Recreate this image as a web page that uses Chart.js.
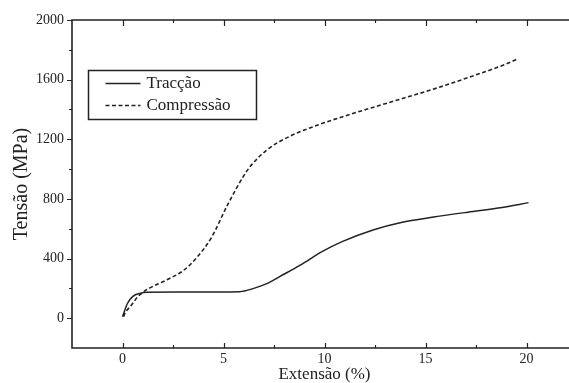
<!DOCTYPE html>
<html>
<head>
<meta charset="utf-8">
<script src="https://cdn.jsdelivr.net/npm/chart.js@4"></script>
<style>
  html, body { margin:0; padding:0; background:#fff; overflow:hidden; }
  #wrap { width:580px; height:383px; }
</style>
</head>
<body>
<div id="wrap"><canvas id="c" width="580" height="383"></canvas></div>
<script>
// valores (extensão em %, tensão em MPa)
const tracX = [0, 0.25, 0.5, 0.9, 1.2, 3, 5.8, 6.5, 7.2, 7.8, 8.8, 9.9, 10.9, 12.4, 13.8, 15.4, 17.1, 18.7, 20.1];
const tracY = [10, 100, 145, 168, 174, 175, 178, 200, 235, 280, 356, 448, 515, 592, 642, 678, 711, 740, 775];

const compX = [0.05, 0.15, 0.4, 0.74, 1.05, 2.2, 3.0, 3.7, 4.4, 5.2, 6.0, 6.4, 7.2, 8.3, 9.8, 11.1, 12.3, 13.9, 15.6, 17.2, 18.9, 19.55];
const compY = [10, 40, 81, 141, 178, 258, 318, 410, 540, 760, 955, 1030, 1134, 1221, 1302, 1360, 1410, 1475, 1545, 1618, 1700, 1738];

const xTicks = [0, 5, 10, 15, 20];
const xMinorTicks = [2.5, 7.5, 12.5, 17.5];
const yTicks = [0, 400, 800, 1200, 1600, 2000];
const yMinorTicks = [200, 600, 1000, 1400, 1800];

const ink = "#222";
const serif = "'Liberation Serif', 'DejaVu Serif', serif";

const pts = (xs, ys) => xs.map((x, i) => ({x, y: ys[i]}));

// moldura, marcas dos eixos e legenda em caixa
const framePlugin = {
  id: "frame",
  afterDraw(chart){
    const {ctx, chartArea:a, scales:{x, y}} = chart;
    ctx.save();
    ctx.strokeStyle = ink;
    ctx.lineWidth = 1.6;
    ctx.beginPath();
    ctx.moveTo(a.right, a.top); ctx.lineTo(a.left, a.top);
    ctx.lineTo(a.left, a.bottom); ctx.lineTo(a.right, a.bottom);
    ctx.stroke();

    ctx.lineWidth = 1.2;
    ctx.beginPath();
    xTicks.forEach(v => {
      const px = Math.round(x.getPixelForValue(v)) + 0.5;
      ctx.moveTo(px, a.bottom); ctx.lineTo(px, a.bottom - 5);
      ctx.moveTo(px, a.top); ctx.lineTo(px, a.top + 6);
    });
    xMinorTicks.forEach(v => {
      const px = Math.round(x.getPixelForValue(v)) + 0.5;
      ctx.moveTo(px, a.bottom); ctx.lineTo(px, a.bottom - 3);
      ctx.moveTo(px, a.top); ctx.lineTo(px, a.top + 3);
    });
    yTicks.forEach(v => {
      const py = Math.round(y.getPixelForValue(v)) + 0.5;
      ctx.moveTo(a.left, py); ctx.lineTo(a.left - 5, py);
    });
    yMinorTicks.forEach(v => {
      const py = Math.round(y.getPixelForValue(v)) + 0.5;
      ctx.moveTo(a.left, py); ctx.lineTo(a.left - 3, py);
    });
    ctx.stroke();

    // legenda
    const bx = 88.5, by = 70.5, bw = 168, bh = 49;
    ctx.lineWidth = 1.5;
    ctx.strokeRect(bx, by, bw, bh);
    ctx.font = "17px " + serif;
    ctx.fillStyle = ink;
    ctx.textBaseline = "middle";
    chart.data.datasets.forEach((ds, i) => {
      const ly = by + 13 + i * 22;
      ctx.beginPath();
      ctx.lineWidth = ds.borderWidth;
      ctx.setLineDash(ds.borderDash || []);
      ctx.moveTo(bx + 17, ly); ctx.lineTo(bx + 52, ly);
      ctx.stroke();
      ctx.setLineDash([]);
      ctx.fillText(ds.label, bx + 58, ly);
    });
    ctx.restore();
  }
};

new Chart(document.getElementById("c"), {
  type: "line",
  data: {
    datasets: [
      {label: "Tracção", data: pts(tracX, tracY), borderColor: ink, borderWidth: 1.5,
       pointRadius: 0, cubicInterpolationMode: "monotone", fill: false},
      {label: "Compressão", data: pts(compX, compY), borderColor: ink, borderWidth: 1.6,
       borderDash: [4, 2.5], pointRadius: 0, cubicInterpolationMode: "monotone", fill: false},
    ]
  },
  options: {
    responsive: false,
    animation: false,
    layout: {padding: {top: 20, right: 3, left: 0, bottom: 0}},
    plugins: {legend: {display: false}, tooltip: {enabled: false}},
    scales: {
      x: {
        type: "linear", min: -2.5, max: 22.5,
        afterBuildTicks: s => { s.ticks = xTicks.map(v => ({value: v})); },
        afterFit: s => { s.height = 35; },
        grid: {display: false, drawTicks: false},
        border: {display: false},
        ticks: {color: ink, font: {family: serif, size: 14, lineHeight: 1}, padding: 4,
                maxRotation: 0, callback: v => String(v)},
        title: {display: true, text: "Extensão (%)", color: ink,
                font: {family: serif, size: 17, lineHeight: 1}, padding: {top: 0, bottom: 0}}
      },
      y: {
        min: -200, max: 2000,
        afterBuildTicks: s => { s.ticks = yTicks.map(v => ({value: v})); },
        afterFit: s => { s.width = 72; },
        grid: {display: false, drawTicks: false},
        border: {display: false},
        ticks: {color: ink, font: {family: serif, size: 14}, padding: 8, callback: v => String(v)},
        title: {display: true, text: "Tensão (MPa)", color: ink,
                font: {family: serif, size: 20}, padding: {top: 10, bottom: 0}}
      }
    }
  },
  plugins: [framePlugin]
});
</script>
</body>
</html>
